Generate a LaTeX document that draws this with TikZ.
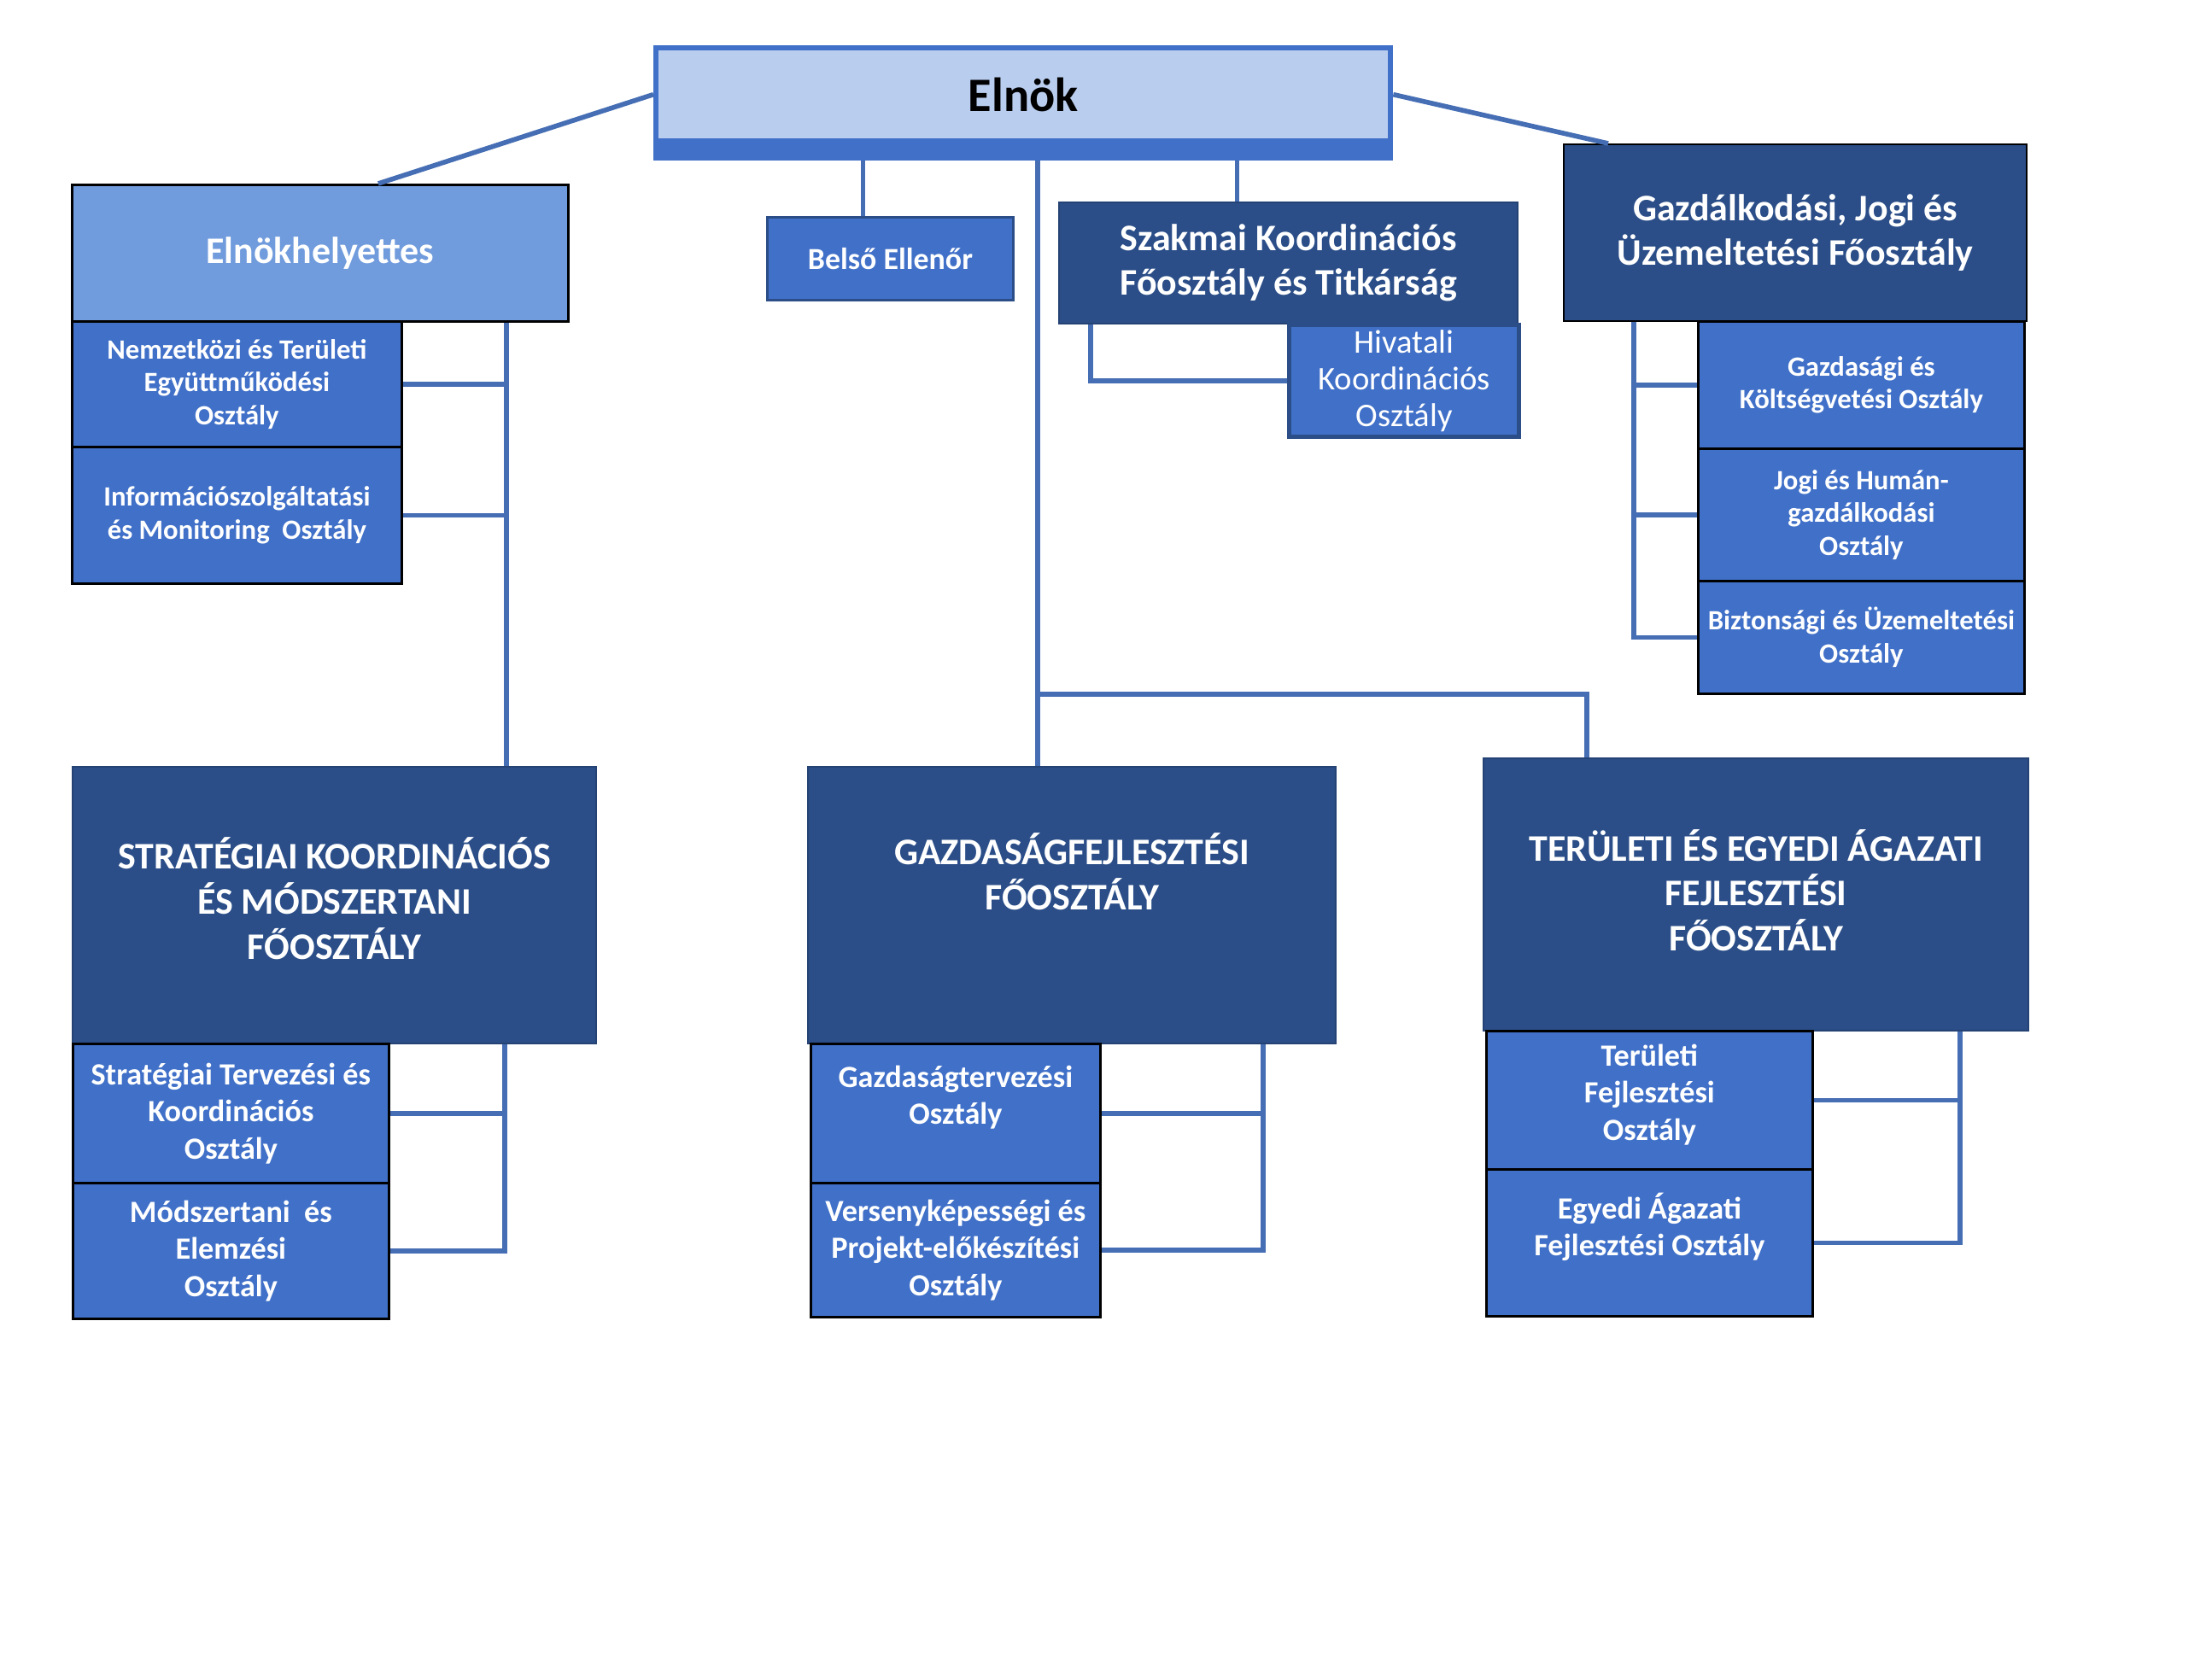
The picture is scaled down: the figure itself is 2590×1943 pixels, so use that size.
\documentclass[tikz,border=0pt]{standalone}
\usepackage{fontspec}
\setmainfont{Carlito}
\usetikzlibrary{calc}

\definecolor{darkblue}{RGB}{43,78,136}
\definecolor{midblue}{RGB}{64,112,200}
\definecolor{lightblue}{RGB}{112,155,220}
\definecolor{paleblue}{RGB}{185,205,238}
\definecolor{linkblue}{RGB}{70,110,180}

\begin{document}
\begin{tikzpicture}[x=0.1mm, y=-0.1mm,
    box/.style={anchor=north west, inner sep=0pt, align=center, text=white},
    head/.style={box, fill=darkblue, draw=darkblue!85!black, line width=0.6pt},
    unit/.style={box, fill=midblue, draw=black, line width=0.8pt},
    big/.style={font=\fontsize{12.5}{15}\selectfont\bfseries},
    mid/.style={font=\fontsize{12.5}{14.8}\selectfont\bfseries},
    small/.style={font=\fontsize{10.3}{12.3}\selectfont\bfseries},
    tiny/.style={font=\fontsize{9.3}{11}\selectfont\bfseries},
    link/.style={draw=linkblue, line width=1.6pt}]
    \useasboundingbox (0,0) rectangle (2590,1943);

    % top
    \node[box, fill=paleblue, draw=midblue, line width=1.8pt, text=black, font=\fontsize{16}{19}\selectfont\bfseries,
          minimum width=86mm, minimum height=10.9mm] (elnok) at (765,53) {Elnök};
    \fill[midblue] ($(elnok.south west)+(0,-3)$) rectangle ($(elnok.south east)+(0,20)$);
    \coordinate (elnokbase) at ($(elnok.south)+(0,20)$);

    % first row
    \node[box, fill=lightblue, draw=black, line width=0.8pt, font=\fontsize{12.5}{15}\selectfont\bfseries,
          minimum width=58.1mm, minimum height=16mm] (elnokh) at (83,215) {Elnökhelyettes};
    \node[unit, tiny, minimum width=38.6mm, minimum height=14.7mm] (nemz) at (83,375) {Nemzetközi és Területi\\Együttműködési\\Osztály};
    \node[unit, tiny, minimum width=38.6mm, minimum height=16mm] (info) at (83,522) {Információszolgáltatási\\és Monitoring~~Osztály};

    \node[unit, draw=darkblue, font=\fontsize{10.2}{12}\selectfont\bfseries, minimum width=28.8mm, minimum height=9.7mm] (belso) at (897,253) {Belső Ellenőr};

    \node[head, mid, minimum width=53.7mm, minimum height=14.2mm] (szk) at (1239,236) {Szakmai Koordinációs\\Főosztály és Titkárság};
    \node[unit, draw=darkblue, line width=1.5pt, font=\fontsize{11}{12.2}\selectfont, minimum width=26.9mm, minimum height=13.1mm] (hiv) at (1507,378) {Hivatali\\Koordinációs\\Osztály};

    \node[head, draw=black, mid, minimum width=54.2mm, minimum height=20.7mm] (gju) at (1830,168) {Gazdálkodási, Jogi és\\Üzemeltetési Főosztály};
    \node[unit, tiny, minimum width=38.2mm, minimum height=14.9mm] (gk) at (1987,375) {Gazdasági és\\Költségvetési Osztály};
    \node[unit, tiny, minimum width=38.2mm, minimum height=15.5mm] (jh) at (1987,524) {Jogi és Humán-\\gazdálkodási\\Osztály};
    \node[unit, tiny, minimum width=38.2mm, minimum height=13.2mm] (bu) at (1987,679) {Biztonsági és Üzemeltetési\\Osztály};

    % second row
    \node[head, big, minimum width=61.3mm, minimum height=32.4mm] (strat) at (84,897) {STRATÉGIAI KOORDINÁCIÓS\\ÉS MÓDSZERTANI\\FŐOSZTÁLY\\[-10.5pt]~};
    \node[unit, small, minimum width=37mm, minimum height=16.3mm] (stk) at (84,1221) {Stratégiai Tervezési és\\Koordinációs\\Osztály};
    \node[unit, small, minimum width=37mm, minimum height=15.9mm] (mod) at (84,1384) {Módszertani~ és\\Elemzési\\Osztály};

    \node[head, big, minimum width=61.8mm, minimum height=32.4mm] (gf) at (945,897) {GAZDASÁGFEJLESZTÉSI\\FŐOSZTÁLY\\[7.4pt]~};
    \node[unit, small, minimum width=33.9mm, minimum height=16.3mm] (gt) at (948,1221) {Gazdaságtervezési\\Osztály\\~};
    \node[unit, small, minimum width=33.9mm, minimum height=15.7mm] (vk) at (948,1384) {Versenyképességi és\\Projekt-előkészítési\\Osztály};

    \node[head, big, minimum width=63.8mm, minimum height=31.9mm] (tef) at (1736,887) {TERÜLETI ÉS EGYEDI ÁGAZATI\\FEJLESZTÉSI\\FŐOSZTÁLY\\[-12pt]~};
    \node[unit, small, minimum width=38.2mm, minimum height=16.2mm] (tf) at (1739,1206) {Területi\\Fejlesztési\\Osztály\\[-7pt]~};
    \node[unit, small, minimum width=38.2mm, minimum height=17.2mm] (ea) at (1739,1368) {Egyedi Ágazati\\Fejlesztési Osztály\\~};

    % connectors
    \coordinate (belsotop) at ($(belso.north)+(-32,0)$);
    \coordinate (szktop) at ($(szk.north)+(-60,0)$);
    \coordinate (gftop) at ($(gf.north)+(-40,0)$);
    \coordinate (teftop) at ($(tef.north)+(-198,0)$);
    \coordinate (fork) at ($(gftop)+(0,-84)$);
    \draw[link] (elnok.west) -- ($(elnokh.north)+(68,0)$);
    \draw[link] (elnok.east) -- ($(gju.north west)+(53,0)$);
    \draw[link] (belsotop |- elnokbase) -- (belsotop);
    \draw[link] (szktop |- elnokbase) -- (szktop);
    \draw[link] (gftop |- elnokbase) -- (gftop);
    \draw[link] (fork) -| (teftop);

    \coordinate (ehx) at (593,0);
    \draw[link] (ehx |- elnokh.south) -- (ehx |- strat.north);
    \draw[link] (nemz.east) -- (nemz.east -| ehx);
    \draw[link] (info.east) -- (info.east -| ehx);

    \draw[link] ($(szk.south west)+(38,0)$) |- (hiv.west);

    \coordinate (gjx) at (1913,0);
    \draw[link] (gjx |- gju.south) |- (bu.west);
    \draw[link] (gk.west) -- (gk.west -| gjx);
    \draw[link] (jh.west) -- (jh.west -| gjx);

    \coordinate (stx) at (591,0);
    \draw[link] (stx |- strat.south) |- (mod.east);
    \draw[link] (stk.east) -- (stk.east -| stx);

    \coordinate (gfx) at (1479,0);
    \draw[link] (gfx |- gf.south) |- (vk.east);
    \draw[link] (gt.east) -- (gt.east -| gfx);

    \coordinate (tex) at (2295,0);
    \draw[link] (tex |- tef.south) |- (ea.east);
    \draw[link] (tf.east) -- (tf.east -| tex);
\end{tikzpicture}
\end{document}
